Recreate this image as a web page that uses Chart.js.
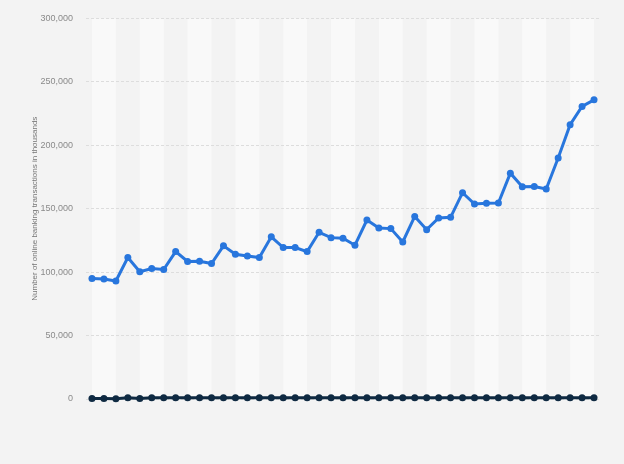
<!DOCTYPE html>
<html>
<head>
<meta charset="utf-8">
<script src="https://cdn.jsdelivr.net/npm/chart.js@4"></script>
<style>
  html, body { margin: 0; padding: 0; background: #f3f3f3; }
  #wrap { width: 624px; height: 464px; }
</style>
</head>
<body>
<div id="wrap"><canvas id="c" width="624" height="464"></canvas></div>
<script>
const categories = ["1","2","3","4","5","6","7","8","9","10","11","12","13","14","15","16","17","18","19","20","21","22","23","24","25","26","27","28","29","30","31","32","33","34","35","36","37","38","39","40","41","42","43"];
const onlineBanking = [95000, 94500, 93000, 111500, 100300, 102900, 102100, 116200, 108400, 108600, 106800, 120700, 114100, 112800, 111500, 127800, 119400, 119400, 116200, 131400, 127200, 126700, 121200, 141100, 134800, 134300, 123800, 143900, 133500, 142700, 143200, 162600, 153700, 154200, 154500, 178000, 167300, 167500, 165500, 190000, 216200, 230600, 235800];
const secondSeries = [400, 300, 200, 1000, 400, 900, 900, 1000, 900, 900, 900, 1000, 900, 900, 900, 1000, 900, 900, 900, 1000, 900, 900, 900, 1000, 900, 900, 900, 1000, 900, 900, 900, 1000, 900, 900, 900, 1000, 900, 900, 900, 1000, 1000, 1000, 1000];
const yTicks = [0, 50000, 100000, 150000, 200000, 250000, 300000];
const yTitle = "Number of online banking transactions in thousands";

const bandPlugin = {
  id: 'bands',
  beforeDraw(chart) {
    const ctx = chart.ctx;
    const a = chart.chartArea;
    const x = chart.scales.x;
    ctx.save();
    ctx.fillStyle = '#f3f3f3';
    ctx.fillRect(0, 0, chart.width, chart.height);
    ctx.fillStyle = '#f9f9f9';
    for (let i = 0; i + 2 < categories.length; i += 4) {
      const x0 = x.getPixelForValue(i);
      const x1 = x.getPixelForValue(i + 2);
      ctx.fillRect(x0, a.top, x1 - x0, a.bottom - a.top);
    }
    ctx.restore();
  }
};

new Chart(document.getElementById('c'), {
  type: 'line',
  data: {
    labels: categories,
    datasets: [
      {
        data: secondSeries,
        borderColor: '#0f2a42',
        backgroundColor: '#0f2a42',
        borderWidth: 3,
        pointRadius: 3.5,
        pointBorderWidth: 0,
        tension: 0,
        clip: false,
        order: 1
      },
      {
        data: onlineBanking,
        borderColor: '#2876dd',
        backgroundColor: '#2876dd',
        borderWidth: 3,
        pointRadius: 3.5,
        pointBorderWidth: 0,
        tension: 0,
        clip: false,
        order: 2
      }
    ]
  },
  options: {
    responsive: false,
    animation: false,
    devicePixelRatio: 1,
    layout: { padding: { left: 0, right: 24, top: 13, bottom: 65 } },
    plugins: { legend: { display: false }, tooltip: { enabled: false } },
    scales: {
      x: {
        type: 'category',
        offset: true,
        display: false
      },
      y: {
        min: 0,
        max: 300000,
        afterFit(s) { s.width = 86; },
        afterBuildTicks(s) { s.ticks = yTicks.map(v => ({ value: v })); },
        border: { display: false, dash: [3, 2] },
        grid: {
          color: '#dddddd',
          lineWidth: 1,
          drawTicks: false
        },
        ticks: {
          padding: 13,
          color: '#8a8a8a',
          font: { family: 'Arial, "Liberation Sans", sans-serif', size: 9 },
          callback: v => v.toLocaleString('en-US')
        },
        title: {
          display: true,
          text: yTitle,
          color: '#777777',
          font: { family: 'Arial, "Liberation Sans", sans-serif', size: 8 },
          padding: { top: 30, bottom: 0 }
        }
      }
    }
  },
  plugins: [bandPlugin]
});
</script>
</body>
</html>
